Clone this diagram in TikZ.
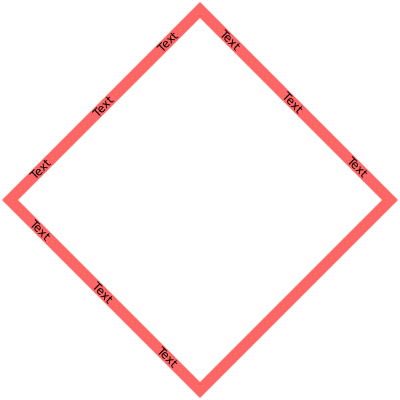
\documentclass[tikz,border=0pt]{standalone}
\usepackage{fontspec}
\setmainfont{DejaVu Sans}
\usetikzlibrary{positioning}
\definecolor{rimred}{RGB}{255, 102, 102}
\tikzset{
    rim/.style={draw=rimred, line width=11pt, line join=miter},
    tag/.style={sloped, inner sep=0pt, font=\fontsize{11.5}{13}\selectfont, text=black}
}
\begin{document}
\begin{tikzpicture}[x=1pt, y=1pt]
    \useasboundingbox (0,0) rectangle (400,400);

    % --- corners of the diamond ---
    \coordinate (top) at (200,390);
    \coordinate (right) at (390,200);
    \coordinate (bottom) at (200,10);
    \coordinate (left) at (10,200);

    % --- outline with labels ---
    \draw[rim] (left)
        -- node[tag, pos=.16] (tl1) {Text} node[tag, pos=.49] (tl2) {Text} node[tag, pos=.83] (tl3) {Text} (top)
        -- node[tag, pos=.16] (tr1) {Text} node[tag, pos=.49] (tr2) {Text} node[tag, pos=.83] (tr3) {Text} (right)
        -- (bottom)
        -- node[tag, pos=.17] (bl3) {Text} node[tag, pos=.51] (bl2) {Text} node[tag, pos=.84] (bl1) {Text} (left)
        -- cycle;

\end{tikzpicture}
\end{document}
